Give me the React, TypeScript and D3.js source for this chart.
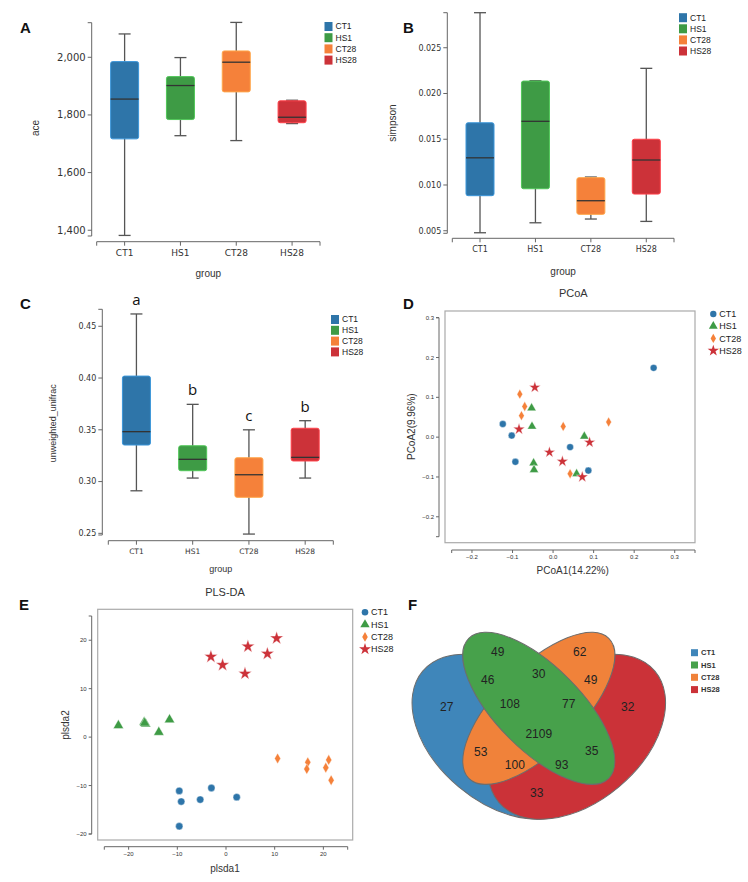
import React from "react";
import * as d3 from "d3";

// ---------------- DATA ----------------
const groups = ["CT1", "HS1", "CT28", "HS28"];
const boxColors = ["#2e75a9", "#3e9b45", "#f5813a", "#cc3239"];
const vennColors = ["#3f86ba", "#47a14b", "#f0823a", "#cb3238"];

// box stats: [min, q1, median, q3, max]
const aceStats = [
  [1382, 1717, 1855, 1985, 2081],
  [1728, 1784, 1902, 1933, 1999],
  [1711, 1880, 1983, 2022, 2121],
  [1770, 1773, 1792, 1849, 1851],
];
const aceTicks = [1400, 1600, 1800, 2000];

const simpsonStats = [
  [0.00478, 0.00883, 0.01297, 0.0168, 0.02883],
  [0.00587, 0.00959, 0.01696, 0.02136, 0.0214],
  [0.00628, 0.00679, 0.00828, 0.0108, 0.01087],
  [0.00602, 0.00901, 0.01273, 0.015, 0.02275],
];
const simpsonTicks = [0.005, 0.01, 0.015, 0.02, 0.025];

const unifracStats = [
  [0.2911, 0.3353, 0.3482, 0.4019, 0.4619],
  [0.3034, 0.3105, 0.3215, 0.3346, 0.3746],
  [0.2493, 0.2848, 0.3066, 0.323, 0.35],
  [0.3034, 0.3199, 0.3234, 0.3515, 0.3588],
];
const unifracTicks = [0.25, 0.3, 0.35, 0.4, 0.45];
const unifracLetters = ["a", "b", "c", "b"];

const pcoaCT1 = [[-0.124, 0.033], [-0.102, 0.004], [-0.093, -0.062], [0.042, -0.025], [0.087, -0.084], [0.248, 0.174]];
const pcoaHS1 = [[-0.053, 0.073], [-0.052, 0.027], [0.077, 0.002], [-0.048, -0.065], [-0.047, -0.082], [0.058, -0.092]];
const pcoaCT28 = [[-0.082, 0.108], [-0.07, 0.077], [-0.078, 0.054], [0.025, 0.027], [0.137, 0.038], [0.042, -0.092]];
const pcoaHS28 = [[-0.045, 0.125], [-0.084, 0.02], [-0.009, -0.038], [0.023, -0.061], [0.09, -0.013], [0.072, -0.1]];
const pcoaXTicks = [-0.2, -0.1, 0, 0.1, 0.2, 0.3];
const pcoaYTicks = [-0.2, -0.1, 0, 0.1, 0.2, 0.3];

const plsCT1 = [[-9.6, -11.1], [-9.2, -13.3], [-5.3, -12.9], [-3.0, -10.5], [2.2, -12.4], [-9.6, -18.4]];
const plsHS1 = [[-22.1, 2.4], [-16.8, 3.1], [-16.5, 2.7], [-13.8, 1.0], [-11.6, 3.6], [-16.7, 2.9]];
const plsCT28 = [[10.6, -4.4], [16.8, -5.2], [16.6, -6.6], [20.5, -6.3], [21.1, -4.7], [21.6, -8.9]];
const plsHS28 = [[-3.1, 16.6], [-0.7, 14.9], [4.5, 18.7], [3.9, 13.1], [8.5, 17.2], [10.4, 20.4]];
const plsXTicks = [-20, -10, 0, 10, 20];
const plsYTicks = [-20, -10, 0, 10, 20];

const vennCounts = [49, 62, 46, 30, 49, 27, 108, 77, 32, 2109, 53, 35, 100, 93, 33];

// ---------------- LAYOUT ----------------
const SANS = "'Liberation Sans', Arial, sans-serif";
const VER = "'DejaVu Sans', Verdana, sans-serif";
const AX = "#666";

// label offsets relative to venn centre (layout)
const vennLabelPos = [
  [-41, -57], [41, -57], [-51, -29], [0, -35], [52, -29], [-92, -2], [-29, -5], [30, -5],
  [89, -2], [0, 25], [-58, 43], [53, 42], [-24, 56], [23, 56], [-2, 84],
];

function BoxPanel(p: any) {
  const x = d3.scaleBand().domain(groups).range([p.x0, p.x1]);
  const y = d3.scaleLinear().domain(p.yDomain).range([p.yBot, p.yTop]);
  const bw = 28;
  const cap = 12;
  return (
    <g>
      <path d={`M${p.yAxisX - 4},${p.yTop}H${p.yAxisX}V${p.yBot}H${p.yAxisX - 4}`} stroke={AX} fill="none" />
      {p.yTicks.map((t: number) => (
        <g key={t}>
          <line x1={p.yAxisX - 4} x2={p.yAxisX} y1={y(t)} y2={y(t)} stroke={AX} />
          <text x={p.yAxisX - 6} y={y(t)} dy="0.35em" textAnchor="end" fontSize={p.yTickSize} fontFamily={VER} fill="#333">
            {p.fmt(t)}
          </text>
        </g>
      ))}
      <path d={`M${p.x0},${p.xAxisY + 4}V${p.xAxisY}H${p.x1}V${p.xAxisY + 4}`} stroke={AX} fill="none" />
      {groups.map((g) => {
        const cx = (x(g) as number) + x.bandwidth() / 2;
        return (
          <g key={g}>
            <line x1={cx} x2={cx} y1={p.xAxisY} y2={p.xAxisY + 4} stroke={AX} />
            <text x={cx} y={p.xAxisY + 8} dy="0.75em" textAnchor="middle" fontSize={p.xTickSize} fontFamily={VER} fill="#333">
              {g}
            </text>
          </g>
        );
      })}
      <text x={(p.x0 + p.x1) / 2} y={p.groupY} dy="0.35em" textAnchor="middle" fontSize={p.titleSize} fontFamily={SANS} fill="#333">
        group
      </text>
      <text
        transform={`translate(${p.yLabelX},${p.yLabelY}) rotate(-90)`}
        dy="0.35em"
        textAnchor="middle"
        fontSize={p.titleSize}
        fontFamily={SANS}
        fill="#333"
      >
        {p.yLabel}
      </text>
      {p.stats.map((s: number[], i: number) => {
        const cx = (x(groups[i]) as number) + x.bandwidth() / 2;
        const col = boxColors[i];
        return (
          <g key={i}>
            <line x1={cx} x2={cx} y1={y(s[4])} y2={y(s[0])} stroke="#555" strokeWidth={1.3} />
            <line x1={cx - cap / 2} x2={cx + cap / 2} y1={y(s[4])} y2={y(s[4])} stroke="#555" strokeWidth={1.3} />
            <line x1={cx - cap / 2} x2={cx + cap / 2} y1={y(s[0])} y2={y(s[0])} stroke="#555" strokeWidth={1.3} />
            <rect
              x={cx - bw / 2}
              y={y(s[3])}
              width={bw}
              height={Math.max(1, y(s[1]) - y(s[3]))}
              rx={2}
              fill={col}
              stroke={d3.color(col)!.brighter(0.7).toString()}
              strokeWidth={1}
            />
            <line x1={cx - bw / 2} x2={cx + bw / 2} y1={y(s[2])} y2={y(s[2])} stroke="#333" strokeWidth={1.3} />
            {p.letters && (
              <text x={cx} y={y(s[4]) - 9} textAnchor="middle" fontSize={15} fontFamily="'Open Sans', sans-serif" fill="#111">
                {p.letters[i]}
              </text>
            )}
          </g>
        );
      })}
      <text x={p.letterX} y={p.letterY} dy="0.35em" fontSize={15} fontWeight="bold" fontFamily={SANS} fill="#111">
        {p.panel}
      </text>
      {groups.map((g, i) => (
        <g key={g}>
          <rect x={p.legX} y={p.legY + i * p.legStep - 4.5} width={8} height={9} fill={boxColors[i]} />
          <text x={p.legX + 11} y={p.legY + i * p.legStep} dy="0.35em" fontSize={8.5} fontFamily={SANS} fill="#222">
            {g}
          </text>
        </g>
      ))}
    </g>
  );
}

const symTypes = [d3.symbolCircle, d3.symbolTriangle, d3.symbolDiamond, d3.symbolStar];

function ScatterPanel(p: any) {
  const x = d3.scaleLinear().domain(p.xDomain).range([p.xr0, p.xr1]);
  const y = d3.scaleLinear().domain(p.yDomain).range([p.yr1, p.yr0]);
  const paths = symTypes.map((t, i) => d3.symbol().type(t).size(p.sizes[i])() as string);
  const legPaths = symTypes.map((t, i) => d3.symbol().type(t).size(p.legSizes[i])() as string);
  return (
    <g>
      <text x={p.titleX} y={p.titleY} dy="0.35em" textAnchor="middle" fontSize={11} fontFamily={SANS} fill="#333">
        {p.title}
      </text>
      <rect x={p.box[0]} y={p.box[1]} width={p.box[2] - p.box[0]} height={p.box[3] - p.box[1]} fill="none" stroke="#aaa" strokeWidth={1.2} />
      {/* y axis */}
      <path d={`M${p.yAxisX - 3},${p.yr0}H${p.yAxisX}V${p.yr1}H${p.yAxisX - 3}`} stroke={AX} fill="none" />
      {p.yTicks.map((t: number) => (
        <g key={t}>
          <line x1={p.yAxisX - 3} x2={p.yAxisX} y1={y(t)} y2={y(t)} stroke={AX} />
          <text x={p.yAxisX - 5} y={y(t)} dy="0.35em" textAnchor="end" fontSize={6} fontFamily={SANS} fill="#333">
            {p.fmt(t)}
          </text>
        </g>
      ))}
      {/* x axis */}
      <path d={`M${p.xr0},${p.xAxisY + 3}V${p.xAxisY}H${p.xr1}V${p.xAxisY + 3}`} stroke={AX} fill="none" />
      {p.xTicks.map((t: number) => (
        <g key={t}>
          <line x1={x(t)} x2={x(t)} y1={p.xAxisY} y2={p.xAxisY + 3} stroke={AX} />
          <text x={x(t)} y={p.xAxisY + 7} dy="0.35em" textAnchor="middle" fontSize={6} fontFamily={SANS} fill="#333">
            {p.fmt(t)}
          </text>
        </g>
      ))}
      <text x={p.xLabelX} y={p.xLabelY} dy="0.35em" textAnchor="middle" fontSize={10} fontFamily={SANS} fill="#333">
        {p.xLabel}
      </text>
      <text
        transform={`translate(${p.yLabelX},${p.yLabelY}) rotate(-90)`}
        dy="0.35em"
        textAnchor="middle"
        fontSize={10}
        fontFamily={SANS}
        fill="#333"
      >
        {p.yLabel}
      </text>
      {p.series.map((pts: number[][], i: number) =>
        pts.map((d, j) => (
          <path
            key={i + "-" + j}
            d={paths[i]}
            transform={`translate(${x(d[0])},${y(d[1])})`}
            fill={boxColors[i]}
            stroke="#fff"
            strokeWidth={0.4}
          />
        ))
      )}
      <text x={p.letterX} y={p.letterY} dy="0.35em" fontSize={15} fontWeight="bold" fontFamily={SANS} fill="#111">
        {p.panel}
      </text>
      {groups.map((g, i) => (
        <g key={g}>
          <path d={legPaths[i]} transform={`translate(${p.legX},${p.legY + i * p.legStep})`} fill={boxColors[i]} />
          <text x={p.legX + 6} y={p.legY + i * p.legStep} dy="0.35em" fontSize={9} fontFamily={SANS} fill="#222">
            {g}
          </text>
        </g>
      ))}
    </g>
  );
}

function Venn() {
  const cx = 538.8;
  const cy = 708.3;
  const ells = [
    { c: 0, x: cx - 38, y: cy + 28.4, rx: 102, ry: 65.5, a: 40 },
    { c: 3, x: cx + 38, y: cy + 28.4, rx: 102, ry: 65.5, a: -40 },
    { c: 2, x: cx, y: cy, rx: 99, ry: 42, a: -45 },
    { c: 1, x: cx, y: cy, rx: 99, ry: 42, a: 45 },
  ];
  return (
    <g>
      {ells.map((e, i) => (
        <ellipse
          key={i}
          cx={e.x}
          cy={e.y}
          rx={e.rx}
          ry={e.ry}
          transform={`rotate(${e.a} ${e.x} ${e.y})`}
          fill={vennColors[e.c]}
          stroke="#6d6d6d"
          strokeWidth={1}
        />
      ))}
      {vennCounts.map((v, i) => (
        <text
          key={i}
          x={cx + vennLabelPos[i][0]}
          y={cy + vennLabelPos[i][1]}
          dy="0.35em"
          textAnchor="middle"
          fontSize={12}
          fontFamily={SANS}
          fill="#222"
        >
          {v}
        </text>
      ))}
      <text x={408} y={605} dy="0.35em" fontSize={15} fontWeight="bold" fontFamily={SANS} fill="#111">
        F
      </text>
      {groups.map((g, i) => (
        <g key={g}>
          <rect x={691} y={652.7 + i * 12.3 - 3.5} width={7} height={7} fill={vennColors[i]} />
          <text x={701} y={652.7 + i * 12.3} dy="0.35em" fontSize={7.5} fontWeight="bold" fontFamily={SANS} fill="#333">
            {g}
          </text>
        </g>
      ))}
    </g>
  );
}

export default function App() {
  return (
    <svg width={748} height={882} style={{ position: "absolute", left: 0, top: 0, background: "#fff" }}>
      <rect width={748} height={882} fill="#fff" />
      <BoxPanel
        panel="A"
        letterX={20}
        letterY={28}
        stats={aceStats}
        yDomain={[1380, 2120]}
        yTicks={aceTicks}
        fmt={d3.format(",")}
        x0={96.7}
        x1={320}
        xAxisY={241.7}
        yAxisX={91.7}
        yTop={22.7}
        yBot={236}
        yTickSize={10}
        xTickSize={9}
        titleSize={10}
        yLabel="ace"
        yLabelX={35}
        yLabelY={128}
        groupY={273}
        legX={324.5}
        legY={26.5}
        legStep={11.2}
      />
      <BoxPanel
        panel="B"
        letterX={403}
        letterY={28}
        stats={simpsonStats}
        yDomain={[0.00472, 0.02883]}
        yTicks={simpsonTicks}
        fmt={d3.format(".3f")}
        x0={452.3}
        x1={674}
        xAxisY={238.3}
        yAxisX={447.3}
        yTop={12.7}
        yBot={233.3}
        yTickSize={8}
        xTickSize={8}
        titleSize={10}
        yLabel="simpson"
        yLabelX={392.7}
        yLabelY={123}
        groupY={271.7}
        legX={679}
        legY={17.7}
        legStep={11.1}
      />
      <BoxPanel
        panel="C"
        letterX={20}
        letterY={304}
        stats={unifracStats}
        yDomain={[0.2484, 0.4664]}
        yTicks={unifracTicks}
        fmt={d3.format(".2f")}
        x0={108.3}
        x1={333.3}
        xAxisY={540.7}
        yAxisX={102.3}
        yTop={309.3}
        yBot={535}
        yTickSize={8}
        xTickSize={7.5}
        titleSize={9}
        yLabel="unweighted_unifrac"
        yLabelX={53.3}
        yLabelY={423.3}
        groupY={569.3}
        legX={331}
        legY={319.5}
        legStep={10.8}
        letters={unifracLetters}
      />
      <ScatterPanel
        panel="D"
        letterX={403}
        letterY={303.3}
        title="PCoA"
        titleX={573.3}
        titleY={293.3}
        series={[pcoaCT1, pcoaHS1, pcoaCT28, pcoaHS28]}
        sizes={[38, 36, 28, 42]}
        legSizes={[32, 34, 25, 40]}
        xDomain={[-0.25, 0.35]}
        yDomain={[-0.25, 0.3]}
        xr0={451.7}
        xr1={695}
        yr0={317.7}
        yr1={536.7}
        xAxisY={550}
        yAxisX={439}
        box={[445, 311, 695, 542.7]}
        xTicks={pcoaXTicks}
        yTicks={pcoaYTicks}
        fmt={d3.format(".1f")}
        xLabel="PCoA1(14.22%)"
        xLabelX={572.7}
        xLabelY={570.5}
        yLabel="PCoA2(9.96%)"
        yLabelX={411.7}
        yLabelY={426.7}
        legX={713.3}
        legY={314}
        legStep={12.2}
      />
      <ScatterPanel
        panel="E"
        letterX={19}
        letterY={605}
        title="PLS-DA"
        titleX={225}
        titleY={591.7}
        series={[plsCT1, plsHS1, plsCT28, plsHS28]}
        sizes={[42, 46, 32, 56]}
        legSizes={[34, 38, 27, 44]}
        xDomain={[-25, 25]}
        yDomain={[-20, 25]}
        xr0={104.3}
        xr1={347.7}
        yr0={616}
        yr1={834}
        xAxisY={846.7}
        yAxisX={91.7}
        box={[97.7, 609.3, 352.7, 840]}
        xTicks={plsXTicks}
        yTicks={plsYTicks}
        fmt={d3.format("d")}
        xLabel="plsda1"
        xLabelX={225}
        xLabelY={868.3}
        yLabel="plsda2"
        yLabelX={65}
        yLabelY={725}
        legX={365}
        legY={612.3}
        legStep={12.3}
      />
      <Venn />
    </svg>
  );
}
